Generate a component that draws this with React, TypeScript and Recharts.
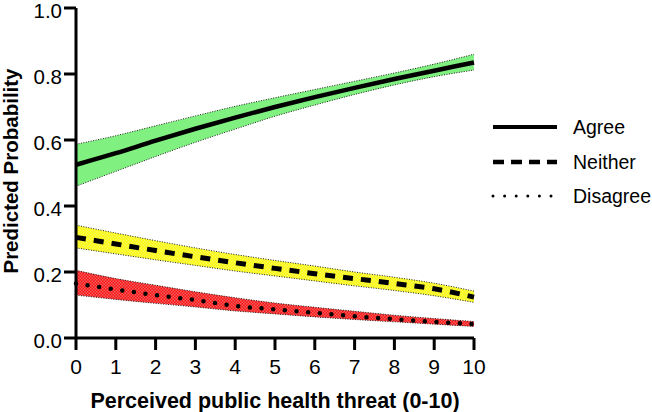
import React from "react";
import { ComposedChart, Area, Line, XAxis, YAxis, Label } from "recharts";

const threat = [0, 1, 2, 3, 4, 5, 6, 7, 8, 9, 10];

const agree = [0.525, 0.56, 0.598, 0.634, 0.668, 0.7, 0.73, 0.758, 0.785, 0.81, 0.835];
const agreeLo = [0.46, 0.505, 0.55, 0.593, 0.633, 0.672, 0.706, 0.738, 0.767, 0.792, 0.812];
const agreeHi = [0.587, 0.613, 0.643, 0.673, 0.702, 0.728, 0.753, 0.778, 0.803, 0.83, 0.86];

const neither = [0.305, 0.285, 0.265, 0.246, 0.228, 0.211, 0.195, 0.18, 0.165, 0.149, 0.124];
const neitherLo = [0.273, 0.255, 0.237, 0.22, 0.203, 0.188, 0.173, 0.158, 0.144, 0.128, 0.108];
const neitherHi = [0.342, 0.318, 0.295, 0.273, 0.253, 0.235, 0.218, 0.2, 0.184, 0.166, 0.142];

const disagree = [0.165, 0.147, 0.13, 0.115, 0.097, 0.087, 0.076, 0.066, 0.057, 0.049, 0.042];
const disagreeLo = [0.13, 0.117, 0.105, 0.094, 0.082, 0.073, 0.064, 0.056, 0.049, 0.042, 0.035];
const disagreeHi = [0.205, 0.18, 0.16, 0.14, 0.122, 0.106, 0.093, 0.081, 0.069, 0.059, 0.05];

const yTicks = [0, 0.2, 0.4, 0.6, 0.8, 1.0];
const xTicks = [0, 1, 2, 3, 4, 5, 6, 7, 8, 9, 10];

const xTitle = "Perceived public health threat (0-10)";
const yTitle = "Predicted Probability";

const legendItems = [
  { name: "Agree", dash: undefined as string | undefined, width: 4, cap: "butt" },
  { name: "Neither", dash: "11 7", width: 4.5, cap: "butt" },
  { name: "Disagree", dash: "0 11.6", width: 3, cap: "round" },
];

const data = threat.map((t, i) => ({
  t,
  agree: agree[i],
  agreeBand: [agreeLo[i], agreeHi[i]],
  neither: neither[i],
  neitherBand: [neitherLo[i], neitherHi[i]],
  disagree: disagree[i],
  disagreeBand: [disagreeLo[i], disagreeHi[i]],
}));

const FONT = "'Liberation Sans', Arial, Helvetica, sans-serif";

const bandProps = {
  type: "monotone" as const,
  fillOpacity: 1,
  stroke: "#222",
  strokeWidth: 1,
  strokeDasharray: "1 1.5",
  isAnimationActive: false,
  activeDot: false as const,
};

const YTick = (p: any) => (
  <text
    x={p.x}
    y={p.y + 2}
    textAnchor="end"
    dominantBaseline="central"
    style={{ fill: "#000", fontSize: 20.5, fontFamily: FONT }}
  >
    {Number(p.payload.value).toFixed(1)}
  </text>
);

export default function App() {
  return (
    <div style={{ position: "absolute", left: 0, top: 0, width: 652, height: 412, background: "#fff", fontFamily: FONT }}>
      <ComposedChart
        width={652}
        height={412}
        data={data}
        margin={{ top: 8, right: 178, left: 0, bottom: 0 }}
        style={{ fontFamily: FONT }}
      >
        <defs>
          <pattern id="yellowPat" width="3" height="3" patternUnits="userSpaceOnUse">
            <rect width="3" height="3" fill="#ffff00" />
            <rect width="1.5" height="1.5" fill="#f4f460" />
            <rect x="1.5" y="1.5" width="1.5" height="1.5" fill="#f4f460" />
          </pattern>
          <pattern id="redPat" width="3" height="3" patternUnits="userSpaceOnUse">
            <rect width="3" height="3" fill="#ff1010" />
            <rect width="1.5" height="1.5" fill="#f06060" />
            <rect x="1.5" y="1.5" width="1.5" height="1.5" fill="#f06060" />
          </pattern>
        </defs>
        <XAxis
          dataKey="t"
          type="number"
          domain={[0, 10]}
          ticks={xTicks}
          height={74}
          axisLine={{ stroke: "#000", strokeWidth: 3 }}
          tickLine={{ stroke: "#000", strokeWidth: 3 }}
          tickSize={12}
          tickMargin={9}
          tick={{ fill: "#000", fontSize: 21, fontFamily: FONT }}
          interval={0}
        >
          <Label
            content={(p: any) => {
              const vb = p.viewBox || {};
              return (
                <text
                  x={(vb.x ?? 76) + (vb.width ?? 398) / 2}
                  y={408}
                  textAnchor="middle"
                  style={{ fill: "#000", fontSize: 21.5, fontWeight: "bold", fontFamily: FONT }}
                >
                  {xTitle}
                </text>
              );
            }}
          />
        </XAxis>
        <YAxis
          type="number"
          domain={[0, 1]}
          ticks={yTicks}
          width={76}
          axisLine={{ stroke: "#000", strokeWidth: 3 }}
          tickLine={{ stroke: "#000", strokeWidth: 3 }}
          tickSize={12}
          tickMargin={2}
          tick={<YTick />}
          interval={0}
        >
          <Label
            content={() => (
              <text
                x={18}
                y={171}
                transform="rotate(-90 18 171)"
                textAnchor="middle"
                style={{ fill: "#000", fontSize: 20.5, fontWeight: "bold", fontFamily: FONT }}
              >
                {yTitle}
              </text>
            )}
          />
        </YAxis>

        <Area dataKey="agreeBand" fill="#80f080" {...bandProps} />
        <Area dataKey="neitherBand" fill="url(#yellowPat)" {...bandProps} />
        <Area dataKey="disagreeBand" fill="url(#redPat)" {...bandProps} />
        <Line
          dataKey="agree"
          type="monotone"
          stroke="#000"
          strokeWidth={4.5}
          dot={false}
          activeDot={false}
          isAnimationActive={false}
        />
        <Line
          dataKey="neither"
          type="monotone"
          stroke="#000"
          strokeWidth={5}
          strokeDasharray="10 8"
          dot={false}
          activeDot={false}
          isAnimationActive={false}
        />
        <Line
          dataKey="disagree"
          type="monotone"
          stroke="#000"
          strokeWidth={4.5}
          strokeDasharray="0 11.7"
          strokeLinecap="round"
          dot={false}
          activeDot={false}
          isAnimationActive={false}
        />
      </ComposedChart>
      <div style={{ position: "absolute", left: 490, top: 110 }}>
        {legendItems.map((it) => (
          <div key={it.name} style={{ display: "flex", alignItems: "center", height: 34.5 }}>
            <svg width={70} height={12} style={{ display: "block" }}>
              <line
                x1={3}
                y1={6}
                x2={67}
                y2={6}
                stroke="#000"
                strokeWidth={it.width}
                strokeDasharray={it.dash}
                strokeLinecap={it.cap as any}
              />
            </svg>
            <span style={{ marginLeft: 13, fontSize: 19.5, color: "#000", fontFamily: FONT, lineHeight: "20px", whiteSpace: "nowrap" }}>
              {it.name}
            </span>
          </div>
        ))}
      </div>
    </div>
  );
}
